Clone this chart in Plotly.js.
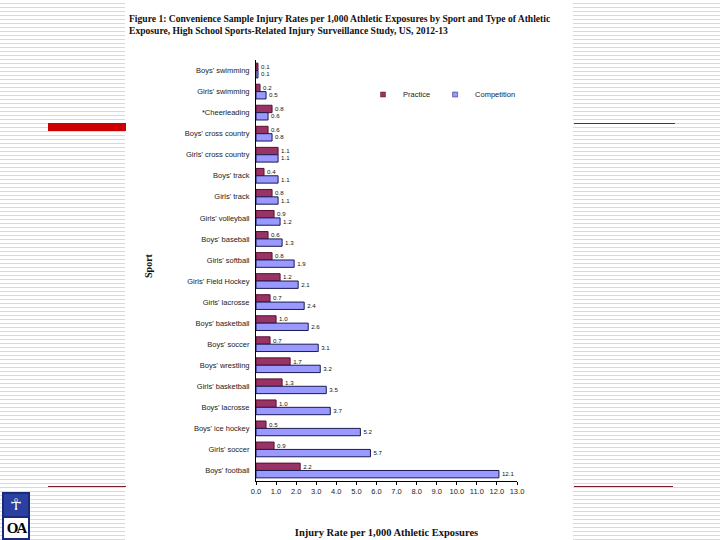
<!DOCTYPE html>
<html>
<head>
<meta charset="utf-8">
<script src="https://cdn.plot.ly/plotly-3.0.1.min.js"></script>
<style>
html,body{margin:0;padding:0;width:720px;height:540px;overflow:hidden;}
body{background:repeating-linear-gradient(to bottom,#ffffff 0px,#ffffff 3px,#d9d9d9 3px,#d9d9d9 4px);position:relative;}
#white{position:absolute;left:125px;top:0;width:448px;height:540px;background:#fff;}
#redbar{position:absolute;left:48px;top:123px;width:78px;height:8px;background:#cc0000;}
.rline{position:absolute;height:1px;background:#7a1f2b;}
#logo{position:absolute;left:2px;top:492px;width:28px;height:48px;background:#1a2a7a;}
#logo .top{position:absolute;left:2px;top:2px;width:24px;height:22px;background:#2b3fa0;color:#fff;font:bold 16px "DejaVu Sans";text-align:center;line-height:22px;}
#logo .bot{position:absolute;left:2px;top:26px;width:24px;height:20px;background:#fff;color:#000;font:bold 15px "Liberation Serif";text-align:center;line-height:20px;letter-spacing:-2px;}
#chart{position:absolute;left:0;top:0;width:720px;height:540px;}
</style>
</head>
<body>
<div id="white"></div>
<div id="redbar"></div>
<div class="rline" style="left:574px;top:123px;width:101px;"></div>
<div class="rline" style="left:48px;top:486px;width:78px;"></div>
<div class="rline" style="left:574px;top:486px;width:99px;"></div>
<div id="logo"><div class="top">&#x2625;</div><div class="bot">OA</div></div>
<div id="chart"></div>
<script>
const sports = ["Boys' swimming","Girls' swimming","*Cheerleading","Boys' cross country","Girls' cross country","Boys' track","Girls' track","Girls' volleyball","Boys' baseball","Girls' softball","Girls' Field Hockey","Girls' lacrosse","Boys' basketball","Boys' soccer","Boys' wrestling","Girls' basketball","Boys' lacrosse","Boys' ice hockey","Girls' soccer","Boys' football"];
const practice = [0.1,0.2,0.8,0.6,1.1,0.4,0.8,0.9,0.6,0.8,1.2,0.7,1.0,0.7,1.7,1.3,1.0,0.5,0.9,2.2];
const competition = [0.1,0.5,0.6,0.8,1.1,1.1,1.1,1.2,1.3,1.9,2.1,2.4,2.6,3.1,3.2,3.5,3.7,5.2,5.7,12.1];
const xTicks = [0,1,2,3,4,5,6,7,8,9,10,11,12,13];
const seriesNames = ['Practice','Competition'];
const seriesColors = ['#993366','#9999ff'];
const seriesLines = ['#5a1030','#1a1a50'];

const fmt = v => v.toFixed(1);
const lblFont = {family:'Arial, Liberation Sans', size:7.5, color:'#111'};
const traces = [
  {type:'bar', orientation:'h', name:seriesNames[0], y:sports, x:practice, showlegend:false,
   marker:{color:seriesColors[0], line:{color:seriesLines[0], width:1}},
   text:practice.map(fmt), textposition:'outside', cliponaxis:false, textfont:lblFont},
  {type:'bar', orientation:'h', name:seriesNames[1], y:sports, x:competition, showlegend:false,
   marker:{color:seriesColors[1], line:{color:seriesLines[1], width:1}},
   text:competition.map(fmt), textposition:'outside', cliponaxis:false, textfont:lblFont},
  {type:'scatter', mode:'markers', name:seriesNames[0], x:[null], y:[null],
   marker:{symbol:'square', size:5, color:seriesColors[0], line:{color:seriesLines[0], width:0.5}}},
  {type:'scatter', mode:'markers', name:seriesNames[1], x:[null], y:[null],
   marker:{symbol:'square', size:5, color:seriesColors[1], line:{color:seriesLines[1], width:0.5}}}
];
const layout = {
  width:720, height:540,
  paper_bgcolor:'rgba(0,0,0,0)', plot_bgcolor:'rgba(0,0,0,0)',
  margin:{l:256, r:203, t:60, b:59},
  barmode:'group', bargap:0.3, bargroupgap:0,
  showlegend:true,
  legend:{orientation:'h', x:0.41, y:0.918, xanchor:'left', yanchor:'middle', itemwidth:30,
    font:{family:'Arial, Liberation Sans', size:7.5, color:'#222'}, bgcolor:'rgba(0,0,0,0)'},
  xaxis:{range:[0,13], tickvals:xTicks, ticktext:xTicks.map(fmt), showgrid:false, zeroline:false,
    showline:true, linecolor:'#000', linewidth:1, ticks:'outside', ticklen:3, tickcolor:'#000',
    tickfont:{family:'Arial, Liberation Sans', size:7.5, color:'#222'},
    title:{text:'Injury Rate per 1,000 Athletic Exposures', standoff:33,
      font:{family:'Liberation Serif, Times New Roman', size:10.5, color:'#111', weight:'bold'}}},
  yaxis:{autorange:'reversed', showgrid:false, zeroline:false, showline:true, linecolor:'#000', linewidth:1,
    ticks:'', tickfont:{family:'Arial, Liberation Sans', size:7.5, color:'#222'}, ticklabelstandoff:4},
  annotations:[
    {xref:'paper', yref:'paper', x:-0.494, y:1.117, xanchor:'left', yanchor:'top', align:'left', showarrow:false,
     text:'<b>Figure 1: Convenience Sample Injury Rates per 1,000 Athletic Exposures by Sport and Type of Athletic<br>Exposure, High School Sports-Related Injury Surveillance Study, US, 2012-13</b>',
     font:{family:'Liberation Serif, Times New Roman', size:9.6, color:'#111'}},
    {xref:'paper', yref:'paper', x:-0.414, y:0.513, xanchor:'center', yanchor:'middle', textangle:-90, showarrow:false,
     text:'<b>Sport</b>', font:{family:'Liberation Serif, Times New Roman', size:10, color:'#111'}}
  ]
};
Plotly.newPlot('chart', traces, layout, {displayModeBar:false, staticPlot:true});
</script>
</body>
</html>
